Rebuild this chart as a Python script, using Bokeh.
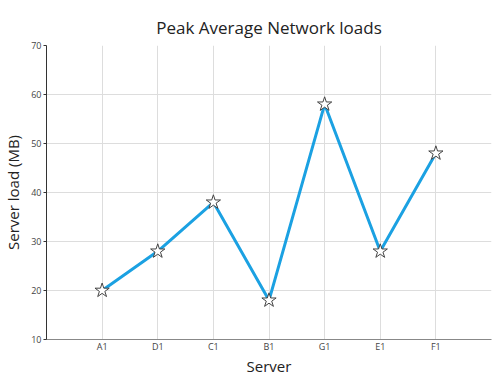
from bokeh.plotting import figure
from bokeh.models import FixedTicker, Range1d, ColumnDataSource
from bokeh.embed import file_html
from bokeh.resources import INLINE

title_text = "Peak Average Network loads"
servers = ["A1", "D1", "C1", "B1", "G1", "E1", "F1"]
loads = [20, 28, 38, 18, 58, 28, 48]
y_ticks = [10, 20, 30, 40, 50, 60, 70]

xs = list(range(1, len(servers) + 1))
src = ColumnDataSource(dict(x=xs, y=loads, name=servers))

p = figure(width=500, height=378, output_backend="svg", toolbar_location=None,
           x_range=Range1d(0, len(servers) + 1), y_range=Range1d(10, 70),
           min_border_left=44, min_border_right=9, min_border_top=45, min_border_bottom=39)
p.outline_line_color = None
p.background_fill_color = "white"
p.border_fill_color = "white"

p.title.text = title_text
p.title.align = "center"
p.title.vertical_align = "top"
p.title.text_font = "Open Sans"
p.title.text_font_size = "17px"
p.title.text_font_style = "normal"
p.title.text_color = "#222222"

p.line("x", "y", source=src, line_color="#1ba1e2", line_width=3)
p.scatter("x", "y", source=src, marker="star", size=15, fill_color="white",
          line_color="#444444", line_width=1)

p.xaxis.ticker = FixedTicker(ticks=list(range(1, len(servers) + 2)))
p.xaxis.major_label_overrides = {i + 1: s for i, s in enumerate(servers)} | {len(servers) + 1: ""}
p.yaxis.ticker = FixedTicker(ticks=y_ticks)

for ax in (p.xaxis, p.yaxis):
    ax.major_label_text_font = "Open Sans"
    ax.major_label_text_font_size = "9px"
    ax.major_label_text_color = "#444444"
    ax.axis_label_text_font = "Open Sans"
    ax.axis_label_text_font_size = "15px"
    ax.axis_label_text_font_style = "normal"
    ax.axis_label_text_color = "#222222"
    ax.minor_tick_line_color = None

p.xaxis.axis_label = "Server"
p.yaxis.axis_label = "Server load (MB)"
p.xaxis.axis_line_color = "#888888"
p.yaxis.axis_line_color = "#333333"
p.xaxis.major_tick_line_color = None
p.xaxis.major_tick_out = 0
p.xaxis.major_tick_in = 0
p.yaxis.major_tick_line_color = "#333333"
p.yaxis.major_tick_out = 3
p.yaxis.major_tick_in = 0
p.xaxis.major_label_standoff = 0
p.xaxis.axis_label_standoff = 0
p.yaxis.major_label_standoff = 2

p.grid.grid_line_color = "#dddddd"
p.grid.grid_line_width = 1

open("out.html", "w").write(file_html(p, INLINE))
